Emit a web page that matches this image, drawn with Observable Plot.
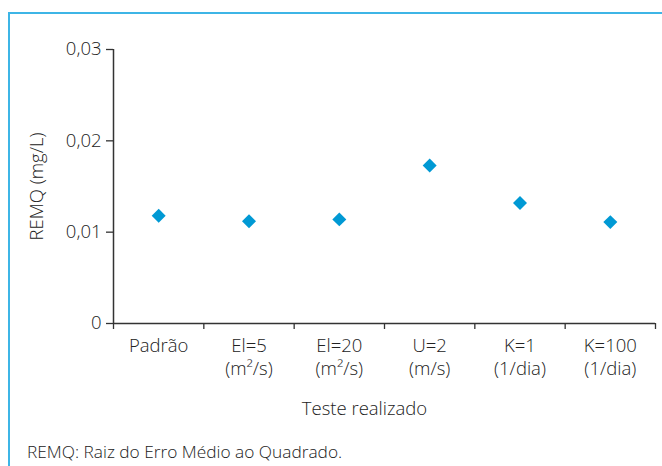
<!DOCTYPE html>
<html>
<head>
<meta charset="utf-8">
<script src="https://cdn.jsdelivr.net/npm/d3@7"></script>
<script src="https://cdn.jsdelivr.net/npm/@observablehq/plot@0.6"></script>
<style>
  html, body { margin: 0; padding: 0; background: #fff; }
  #wrap { position: relative; width: 662px; height: 466px; overflow: hidden; font-family: "Open Sans", "Lato", sans-serif; font-weight: 300; color: #222; }
  #frame { position: absolute; left: 8px; top: 12px; width: 660px; height: 460px; border-left: 2px solid #3db5e6; border-top: 2px solid #3db5e6; }
  #chart { position: absolute; left: 0; top: 0; }
  #caption { position: absolute; left: 27px; top: 440px; font-size: 17.3px; white-space: nowrap; }
</style>
</head>
<body>
<div id="wrap">
  <div id="frame"></div>
  <div id="chart"></div>
  <div id="caption">REMQ: Raiz do Erro Médio ao Quadrado.</div>
</div>
<script>
const categories = ["Padrão", "El=5\n(m²/s)", "El=20\n(m²/s)", "U=2\n(m/s)", "K=1\n(1/dia)", "K=100\n(1/dia)"];
const remq = [0.0118, 0.0112, 0.0114, 0.0173, 0.0132, 0.0111];
const yTicks = [0, 0.01, 0.02, 0.03];
const yLabel = "REMQ (mg/L)";
const xLabel = "Teste realizado";

const data = categories.map((c, i) => ({idx: i, cat: c, v: remq[i]}));
const centers = categories.map((c, i) => i + 0.5);
const bounds = d3.range(categories.length + 1);

const fmt = d => d === 0 ? "0" : d.toFixed(2).replace(".", ",");
const FS = 18.5;

const plot = Plot.plot({
  width: 662,
  height: 425,
  marginLeft: 113,
  marginRight: 7,
  marginTop: 49,
  marginBottom: 102,
  style: {fontFamily: "'Open Sans', Lato, sans-serif", fontWeight: 300, fontSize: FS + "px", color: "#222", background: "transparent"},
  x: {domain: [0, categories.length]},
  y: {domain: [0, 0.03]},
  marks: [
    Plot.axisY({ticks: yTicks, tickFormat: fmt, tickSize: 7, tickPadding: 5, fontSize: FS, label: yLabel, labelAnchor: "center", labelArrow: "none", labelOffset: 84, stroke: "#333", strokeWidth: 1.3}),
    Plot.axisX({ticks: bounds, tickSize: 6, tickFormat: () => "", label: null, stroke: "#333", strokeWidth: 1.3}),
    Plot.axisX({ticks: centers, tickSize: 0, tickPadding: 12, fontSize: FS, tickFormat: d => categories[Math.round(d - 0.5)], lineHeight: 1.25, label: null}),
    Plot.text([xLabel], {frameAnchor: "bottom", dy: 91, dx: -20, fontSize: FS, fill: "#222"}),
    Plot.ruleY([0], {stroke: "#333", strokeWidth: 1.5}),
    Plot.ruleX([0], {stroke: "#333", strokeWidth: 1.5}),
    Plot.dot(data, {x: d => d.idx + 0.5, y: "v", symbol: "diamond2", r: 6.3, fill: "#0099d4", stroke: "none"})
  ]
});
document.getElementById("chart").appendChild(plot);
</script>
</body>
</html>
